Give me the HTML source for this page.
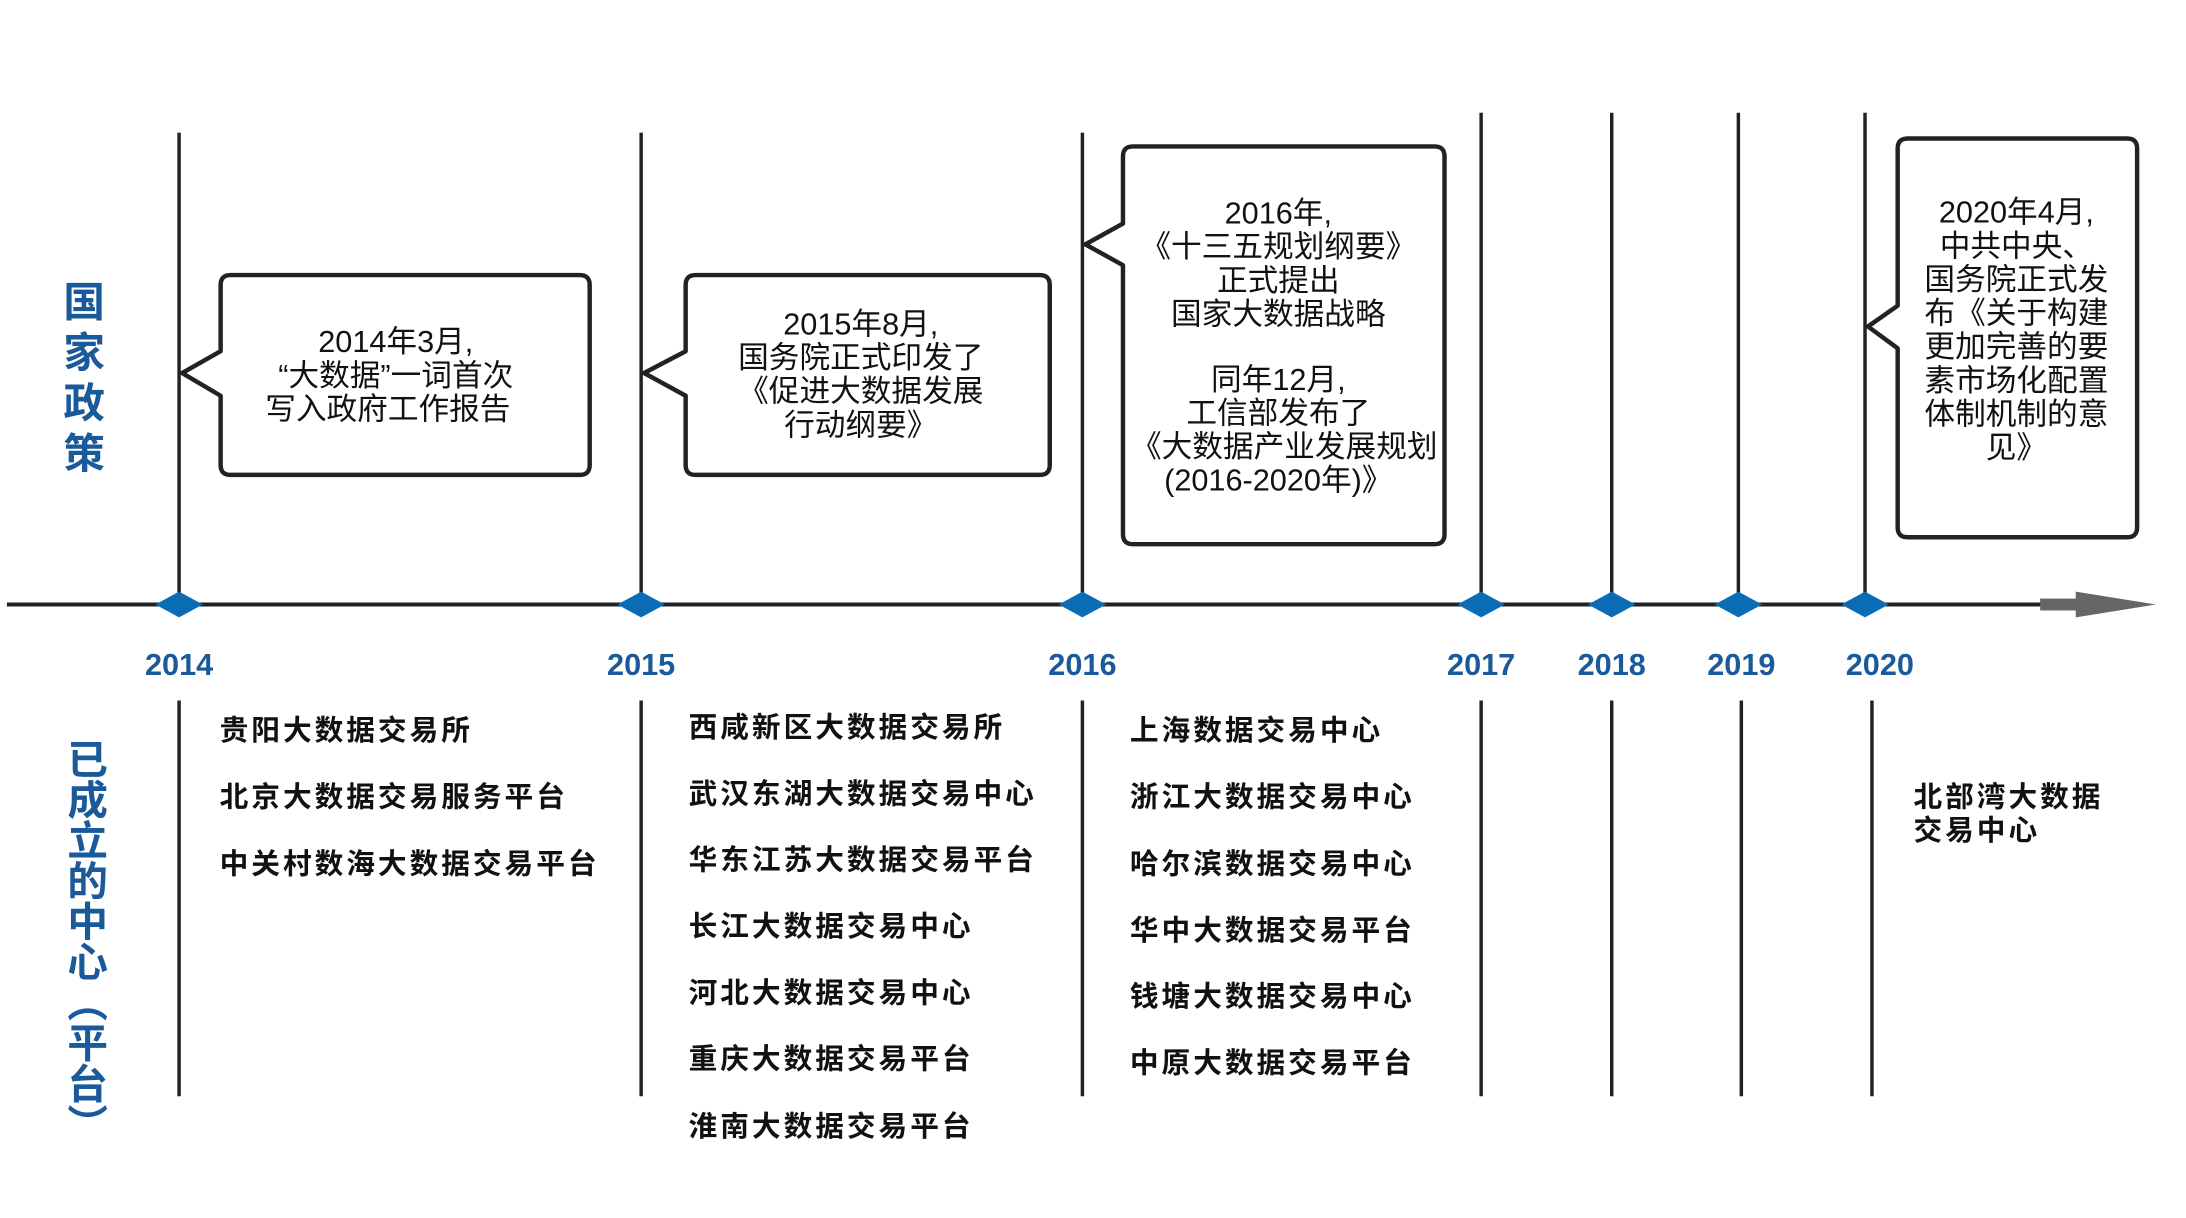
<!DOCTYPE html>
<html><head><meta charset="utf-8"><style>
html,body{margin:0;padding:0;background:#fff;}
svg{display:block;}
.t{font-family:"Liberation Sans","Noto Sans CJK SC",sans-serif;}
</style></head><body>
<svg width="2186" height="1218" viewBox="0 0 2186 1218" xmlns="http://www.w3.org/2000/svg">
<g transform="scale(0.9894)">
<g stroke="#222" stroke-width="3.5" fill="none">
<line x1="181" y1="134" x2="181" y2="611"/>
<line x1="648" y1="134" x2="648" y2="611"/>
<line x1="1094" y1="134" x2="1094" y2="611"/>
<line x1="1497" y1="114" x2="1497" y2="611"/>
<line x1="1629" y1="114" x2="1629" y2="611"/>
<line x1="1757" y1="114" x2="1757" y2="611"/>
<line x1="1885" y1="114" x2="1885" y2="611"/>
<line x1="181" y1="708" x2="181" y2="1108"/>
<line x1="648" y1="708" x2="648" y2="1108"/>
<line x1="1094" y1="708" x2="1094" y2="1108"/>
<line x1="1497" y1="708" x2="1497" y2="1108"/>
<line x1="1629" y1="708" x2="1629" y2="1108"/>
<line x1="1760" y1="708" x2="1760" y2="1108"/>
<line x1="1892" y1="708" x2="1892" y2="1108"/>
<line x1="7" y1="611" x2="2070" y2="611" stroke-width="4"/>
</g>
<rect x="2062" y="605" width="40" height="12" fill="#666"/>
<polygon points="2098,598 2179,611 2098,624" fill="#666"/>
<g fill="#0a6cb4">
<polygon points="181,598 205,611 181,624 157,611"/>
<polygon points="648,598 672,611 648,624 624,611"/>
<polygon points="1094,598 1118,611 1094,624 1070,611"/>
<polygon points="1497,598 1521,611 1497,624 1473,611"/>
<polygon points="1629,598 1653,611 1629,624 1605,611"/>
<polygon points="1757,598 1781,611 1757,624 1733,611"/>
<polygon points="1885,598 1909,611 1885,624 1861,611"/>
</g>
<g stroke="#222" stroke-width="4.5" fill="#fff" stroke-linejoin="round">
<path d="M233,278 H586 Q596,278 596,288 V470 Q596,480 586,480 H233 Q223,480 223,470 V400 L184,377 L223,355 V288 Q223,278 233,278 Z"/>
<path d="M703,278 H1051 Q1061,278 1061,288 V470 Q1061,480 1051,480 H703 Q693,480 693,470 V400 L651,377 L693,355 V288 Q693,278 703,278 Z"/>
<path d="M1145,148 H1450 Q1460,148 1460,158 V540 Q1460,550 1450,550 H1145 Q1135,550 1135,540 V268 L1097,247 L1135,226 V158 Q1135,148 1145,148 Z"/>
<path d="M1928,140 H2150 Q2160,140 2160,150 V533 Q2160,543 2150,543 H1928 Q1918,543 1918,533 V352 L1888,330 L1918,309 V150 Q1918,140 1928,140 Z"/>
</g>
<g class="t" font-size="31" fill="#111" text-anchor="middle">
<text x="400" y="356">2014年3月,</text>
<text x="400" y="390">“大数据”一词首次</text>
<text x="392" y="424">写入政府工作报告</text>
<text x="870" y="338">2015年8月,</text>
<text x="870" y="372">国务院正式印发了</text>
<text x="870" y="406">《促进大数据发展</text>
<text x="870" y="440">行动纲要》</text>
<text x="1292" y="226">2016年,</text>
<text x="1292" y="260">《十三五规划纲要》</text>
<text x="1292" y="294">正式提出</text>
<text x="1292" y="328">国家大数据战略</text>
<text x="1292" y="394">同年12月,</text>
<text x="1292" y="428">工信部发布了</text>
<text x="1298" y="462">《大数据产业发展规划</text>
<text x="1292" y="496">(2016-2020年)》</text>
<text x="2038" y="225">2020年4月,</text>
<text x="2038" y="259">中共中央、</text>
<text x="2038" y="293">国务院正式发</text>
<text x="2038" y="327">布《关于构建</text>
<text x="2038" y="361">更加完善的要</text>
<text x="2038" y="395">素市场化配置</text>
<text x="2038" y="429">体制机制的意</text>
<text x="2038" y="463">见》</text>
</g>
<g class="t" font-size="31" font-weight="bold" fill="#1a5a9a" text-anchor="middle">
<text x="181" y="682">2014</text>
<text x="648" y="682">2015</text>
<text x="1094" y="682">2016</text>
<text x="1497" y="682">2017</text>
<text x="1629" y="682">2018</text>
<text x="1760" y="682">2019</text>
<text x="1900" y="682">2020</text>
</g>
<g class="t" font-size="42" font-weight="bold" fill="#1a5a9a" text-anchor="middle">
<text x="85" y="320">国</text>
<text x="85" y="371">家</text>
<text x="85" y="422">政</text>
<text x="85" y="473">策</text>
</g>
<text class="t" x="85" y="746" font-size="41" font-weight="bold" fill="#1a5a9a" style="writing-mode:vertical-rl">已成立的中心（平台）</text>
<g class="t" font-size="29" font-weight="bold" fill="#111" letter-spacing="3">
<text x="222" y="748">贵阳大数据交易所</text>
<text x="222" y="815">北京大数据交易服务平台</text>
<text x="222" y="883">中关村数海大数据交易平台</text>
<text x="696" y="745">西咸新区大数据交易所</text>
<text x="696" y="812">武汉东湖大数据交易中心</text>
<text x="696" y="879">华东江苏大数据交易平台</text>
<text x="696" y="946">长江大数据交易中心</text>
<text x="696" y="1013">河北大数据交易中心</text>
<text x="696" y="1080">重庆大数据交易平台</text>
<text x="696" y="1148">淮南大数据交易平台</text>
<text x="1142" y="748">上海数据交易中心</text>
<text x="1142" y="815">浙江大数据交易中心</text>
<text x="1142" y="883">哈尔滨数据交易中心</text>
<text x="1142" y="950">华中大数据交易平台</text>
<text x="1142" y="1017">钱塘大数据交易中心</text>
<text x="1142" y="1084">中原大数据交易平台</text>
<text x="1934" y="815">北部湾大数据</text>
<text x="1934" y="849">交易中心</text>
</g>
</g>
</svg>
</body></html>
